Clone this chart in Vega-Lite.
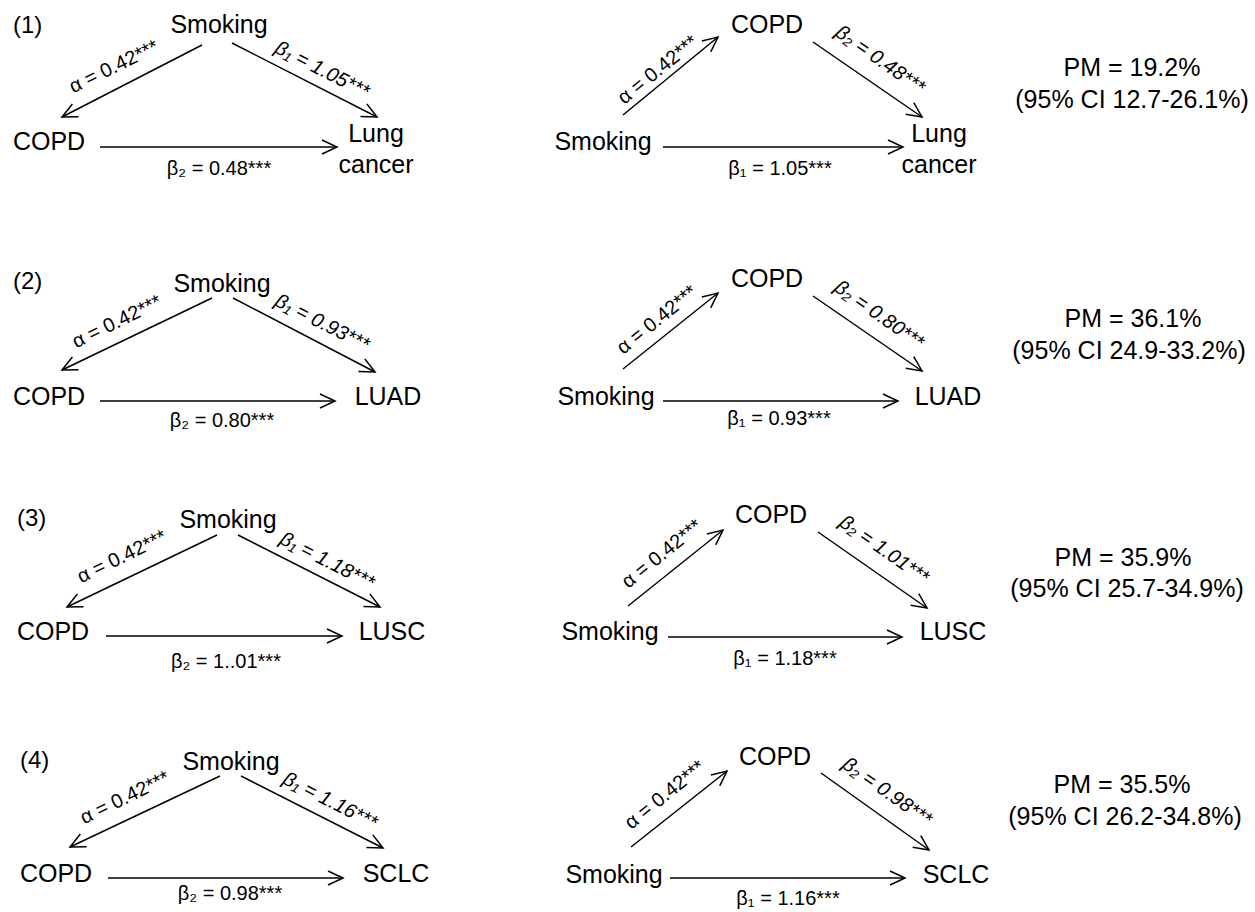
{
  "$schema": "https://vega.github.io/schema/vega-lite/v6.json",
  "width": 1255,
  "height": 912,
  "autosize": {"type": "fit", "contains": "padding"},
  "padding": 0,
  "background": "white",
  "config": {"view": {"stroke": null}, "text": {"font": "Liberation Sans", "color": "black"}},
  "datasets": {
    "edges": [
      {"x1": 202, "y1": 45, "x2": 62, "y2": 117, "dir": "dl"},
      {"x1": 232, "y1": 43, "x2": 377, "y2": 117, "dir": "dr"},
      {"x1": 100, "y1": 147, "x2": 337, "y2": 147, "dir": "r"},
      {"x1": 623, "y1": 115, "x2": 718, "y2": 37, "dir": "ur"},
      {"x1": 813, "y1": 42, "x2": 922, "y2": 117, "dir": "dr2"},
      {"x1": 663, "y1": 147, "x2": 903, "y2": 147, "dir": "r"},
      {"x1": 212, "y1": 298, "x2": 62, "y2": 370, "dir": "dl"},
      {"x1": 233, "y1": 298, "x2": 375, "y2": 372, "dir": "dr"},
      {"x1": 100, "y1": 401, "x2": 335, "y2": 401, "dir": "r"},
      {"x1": 623, "y1": 369, "x2": 718, "y2": 293, "dir": "ur"},
      {"x1": 813, "y1": 296, "x2": 922, "y2": 371, "dir": "dr2"},
      {"x1": 663, "y1": 401, "x2": 898, "y2": 401, "dir": "r"},
      {"x1": 217, "y1": 535, "x2": 67, "y2": 607, "dir": "dl"},
      {"x1": 238, "y1": 535, "x2": 380, "y2": 607, "dir": "dr"},
      {"x1": 106, "y1": 636, "x2": 342, "y2": 636, "dir": "r"},
      {"x1": 628, "y1": 606, "x2": 723, "y2": 530, "dir": "ur"},
      {"x1": 818, "y1": 532, "x2": 927, "y2": 608, "dir": "dr2"},
      {"x1": 668, "y1": 637, "x2": 902, "y2": 637, "dir": "r"},
      {"x1": 220, "y1": 776, "x2": 70, "y2": 847, "dir": "dl"},
      {"x1": 241, "y1": 776, "x2": 383, "y2": 848, "dir": "dr"},
      {"x1": 108, "y1": 878, "x2": 343, "y2": 878, "dir": "r"},
      {"x1": 631, "y1": 847, "x2": 727, "y2": 771, "dir": "ur"},
      {"x1": 821, "y1": 773, "x2": 929, "y2": 850, "dir": "dr2"},
      {"x1": 670, "y1": 878, "x2": 905, "y2": 878, "dir": "r"}
    ],
    "labels": [
      {"role": "panel", "label": "(1)", "x": 13, "y": 33},
      {"role": "panel", "label": "(2)", "x": 13, "y": 289},
      {"role": "panel", "label": "(3)", "x": 17, "y": 526},
      {"role": "panel", "label": "(4)", "x": 20, "y": 768},

      {"role": "node", "label": "Smoking", "x": 219, "y": 33},
      {"role": "node", "label": "COPD", "x": 49, "y": 150},
      {"role": "node", "label": "Lung", "x": 376, "y": 142},
      {"role": "node", "label": "cancer", "x": 376, "y": 173},
      {"role": "node", "label": "COPD", "x": 767, "y": 33},
      {"role": "node", "label": "Smoking", "x": 603, "y": 150},
      {"role": "node", "label": "Lung", "x": 939, "y": 142},
      {"role": "node", "label": "cancer", "x": 939, "y": 173},

      {"role": "node", "label": "Smoking", "x": 222, "y": 292},
      {"role": "node", "label": "COPD", "x": 49, "y": 405},
      {"role": "node", "label": "LUAD", "x": 388, "y": 405},
      {"role": "node", "label": "COPD", "x": 767, "y": 287},
      {"role": "node", "label": "Smoking", "x": 606, "y": 405},
      {"role": "node", "label": "LUAD", "x": 948, "y": 405},

      {"role": "node", "label": "Smoking", "x": 228, "y": 528},
      {"role": "node", "label": "COPD", "x": 53, "y": 640},
      {"role": "node", "label": "LUSC", "x": 392, "y": 640},
      {"role": "node", "label": "COPD", "x": 771, "y": 523},
      {"role": "node", "label": "Smoking", "x": 610, "y": 640},
      {"role": "node", "label": "LUSC", "x": 953, "y": 640},

      {"role": "node", "label": "Smoking", "x": 231, "y": 770},
      {"role": "node", "label": "COPD", "x": 56, "y": 882},
      {"role": "node", "label": "SCLC", "x": 396, "y": 882},
      {"role": "node", "label": "COPD", "x": 775, "y": 765},
      {"role": "node", "label": "Smoking", "x": 614, "y": 883},
      {"role": "node", "label": "SCLC", "x": 956, "y": 883},

      {"role": "coef", "label": "β₂ = 0.48***", "x": 219, "y": 175},
      {"role": "coef", "label": "β₁ = 1.05***", "x": 780, "y": 175},
      {"role": "coef", "label": "β₂ = 0.80***", "x": 222, "y": 427},
      {"role": "coef", "label": "β₁ = 0.93***", "x": 779, "y": 425},
      {"role": "coef", "label": "β₂ = 1..01***", "x": 226, "y": 668},
      {"role": "coef", "label": "β₁ = 1.18***", "x": 785, "y": 665},
      {"role": "coef", "label": "β₂ = 0.98***", "x": 230, "y": 900},
      {"role": "coef", "label": "β₁ = 1.16***", "x": 788, "y": 905},

      {"role": "alphaL", "label": "α = 0.42***", "x": 114, "y": 67},
      {"role": "alphaL", "label": "α = 0.42***", "x": 117, "y": 322},
      {"role": "alphaL", "label": "α = 0.42***", "x": 122, "y": 557},
      {"role": "alphaL", "label": "α = 0.42***", "x": 125, "y": 798},
      {"role": "betaL", "label": "β₁ = 1.05***", "x": 322, "y": 70},
      {"role": "betaL", "label": "β₁ = 0.93***", "x": 322, "y": 323},
      {"role": "betaL", "label": "β₁ = 1.18***", "x": 327, "y": 561},
      {"role": "betaL", "label": "β₁ = 1.16***", "x": 330, "y": 801},
      {"role": "alphaR", "label": "α = 0.42***", "x": 658, "y": 70},
      {"role": "alphaR", "label": "α = 0.42***", "x": 657, "y": 320},
      {"role": "alphaR", "label": "α = 0.42***", "x": 662, "y": 554},
      {"role": "alphaR", "label": "α = 0.42***", "x": 665, "y": 795},
      {"role": "betaR", "label": "β₂ = 0.48***", "x": 880, "y": 60},
      {"role": "betaR", "label": "β₂ = 0.80***", "x": 879, "y": 315},
      {"role": "betaR", "label": "β₂ = 1.01***", "x": 884, "y": 550},
      {"role": "betaR", "label": "β₂ = 0.98***", "x": 887, "y": 792},

      {"role": "pm", "label": "PM = 19.2%", "x": 1132, "y": 76},
      {"role": "pm", "label": "(95% CI 12.7-26.1%)", "x": 1132, "y": 108},
      {"role": "pm", "label": "PM = 36.1%", "x": 1133, "y": 327},
      {"role": "pm", "label": "(95% CI 24.9-33.2%)", "x": 1129, "y": 359},
      {"role": "pm", "label": "PM = 35.9%", "x": 1123, "y": 566},
      {"role": "pm", "label": "(95% CI 25.7-34.9%)", "x": 1127, "y": 597},
      {"role": "pm", "label": "PM = 35.5%", "x": 1122, "y": 793},
      {"role": "pm", "label": "(95% CI 26.2-34.8%)", "x": 1125, "y": 825}
    ]
  },
  "layer": [
    {
      "data": {"name": "edges"},
      "mark": {"type": "rule", "stroke": "black", "strokeWidth": 1.5},
      "encoding": {
        "x": {"field": "x1", "type": "quantitative", "scale": {"domain": [0, 1255], "nice": false, "zero": false}, "axis": null},
        "y": {"field": "y1", "type": "quantitative", "scale": {"domain": [0, 912], "nice": false, "zero": false, "reverse": true}, "axis": null},
        "x2": {"field": "x2"},
        "y2": {"field": "y2"}
      }
    },
    {
      "data": {"name": "edges"},
      "transform": [{"filter": "datum.dir === 'dl'"}],
      "mark": {"type": "point", "shape": "M-1,-0.47L0,0L-1,0.47", "filled": false, "stroke": "black", "strokeWidth": 1.5, "opacity": 1, "size": 900, "angle": 154},
      "encoding": {
        "x": {"field": "x2", "type": "quantitative", "scale": {"domain": [0, 1255], "nice": false, "zero": false}, "axis": null},
        "y": {"field": "y2", "type": "quantitative", "scale": {"domain": [0, 912], "nice": false, "zero": false, "reverse": true}, "axis": null}
      }
    },
    {
      "data": {"name": "edges"},
      "transform": [{"filter": "datum.dir === 'dr'"}],
      "mark": {"type": "point", "shape": "M-1,-0.47L0,0L-1,0.47", "filled": false, "stroke": "black", "strokeWidth": 1.5, "opacity": 1, "size": 900, "angle": 27},
      "encoding": {
        "x": {"field": "x2", "type": "quantitative", "scale": {"domain": [0, 1255], "nice": false, "zero": false}, "axis": null},
        "y": {"field": "y2", "type": "quantitative", "scale": {"domain": [0, 912], "nice": false, "zero": false, "reverse": true}, "axis": null}
      }
    },
    {
      "data": {"name": "edges"},
      "transform": [{"filter": "datum.dir === 'r'"}],
      "mark": {"type": "point", "shape": "M-1,-0.47L0,0L-1,0.47", "filled": false, "stroke": "black", "strokeWidth": 1.5, "opacity": 1, "size": 900, "angle": 0},
      "encoding": {
        "x": {"field": "x2", "type": "quantitative", "scale": {"domain": [0, 1255], "nice": false, "zero": false}, "axis": null},
        "y": {"field": "y2", "type": "quantitative", "scale": {"domain": [0, 912], "nice": false, "zero": false, "reverse": true}, "axis": null}
      }
    },
    {
      "data": {"name": "edges"},
      "transform": [{"filter": "datum.dir === 'ur'"}],
      "mark": {"type": "point", "shape": "M-1,-0.47L0,0L-1,0.47", "filled": false, "stroke": "black", "strokeWidth": 1.5, "opacity": 1, "size": 900, "angle": -38.8},
      "encoding": {
        "x": {"field": "x2", "type": "quantitative", "scale": {"domain": [0, 1255], "nice": false, "zero": false}, "axis": null},
        "y": {"field": "y2", "type": "quantitative", "scale": {"domain": [0, 912], "nice": false, "zero": false, "reverse": true}, "axis": null}
      }
    },
    {
      "data": {"name": "edges"},
      "transform": [{"filter": "datum.dir === 'dr2'"}],
      "mark": {"type": "point", "shape": "M-1,-0.47L0,0L-1,0.47", "filled": false, "stroke": "black", "strokeWidth": 1.5, "opacity": 1, "size": 900, "angle": 35},
      "encoding": {
        "x": {"field": "x2", "type": "quantitative", "scale": {"domain": [0, 1255], "nice": false, "zero": false}, "axis": null},
        "y": {"field": "y2", "type": "quantitative", "scale": {"domain": [0, 912], "nice": false, "zero": false, "reverse": true}, "axis": null}
      }
    },
    {
      "data": {"name": "labels"},
      "transform": [{"filter": "datum.role === 'node'"}],
      "mark": {"type": "text", "fontSize": 25, "align": "center", "baseline": "alphabetic"},
      "encoding": {
        "x": {"field": "x", "type": "quantitative", "scale": {"domain": [0, 1255], "nice": false, "zero": false}, "axis": null},
        "y": {"field": "y", "type": "quantitative", "scale": {"domain": [0, 912], "nice": false, "zero": false, "reverse": true}, "axis": null},
        "text": {"field": "label"}
      }
    },
    {
      "data": {"name": "labels"},
      "transform": [{"filter": "datum.role === 'panel'"}],
      "mark": {"type": "text", "fontSize": 24, "align": "left", "baseline": "alphabetic"},
      "encoding": {
        "x": {"field": "x", "type": "quantitative", "scale": {"domain": [0, 1255], "nice": false, "zero": false}, "axis": null},
        "y": {"field": "y", "type": "quantitative", "scale": {"domain": [0, 912], "nice": false, "zero": false, "reverse": true}, "axis": null},
        "text": {"field": "label"}
      }
    },
    {
      "data": {"name": "labels"},
      "transform": [{"filter": "datum.role === 'pm'"}],
      "mark": {"type": "text", "fontSize": 25, "align": "center", "baseline": "alphabetic"},
      "encoding": {
        "x": {"field": "x", "type": "quantitative", "scale": {"domain": [0, 1255], "nice": false, "zero": false}, "axis": null},
        "y": {"field": "y", "type": "quantitative", "scale": {"domain": [0, 912], "nice": false, "zero": false, "reverse": true}, "axis": null},
        "text": {"field": "label"}
      }
    },
    {
      "data": {"name": "labels"},
      "transform": [{"filter": "datum.role === 'coef'"}],
      "mark": {"type": "text", "fontSize": 20, "align": "center", "baseline": "alphabetic"},
      "encoding": {
        "x": {"field": "x", "type": "quantitative", "scale": {"domain": [0, 1255], "nice": false, "zero": false}, "axis": null},
        "y": {"field": "y", "type": "quantitative", "scale": {"domain": [0, 912], "nice": false, "zero": false, "reverse": true}, "axis": null},
        "text": {"field": "label"}
      }
    },
    {
      "data": {"name": "labels"},
      "transform": [{"filter": "datum.role === 'alphaL'"}],
      "mark": {"type": "text", "fontSize": 20, "align": "center", "baseline": "middle", "angle": -26},
      "encoding": {
        "x": {"field": "x", "type": "quantitative", "scale": {"domain": [0, 1255], "nice": false, "zero": false}, "axis": null},
        "y": {"field": "y", "type": "quantitative", "scale": {"domain": [0, 912], "nice": false, "zero": false, "reverse": true}, "axis": null},
        "text": {"field": "label"}
      }
    },
    {
      "data": {"name": "labels"},
      "transform": [{"filter": "datum.role === 'betaL'"}],
      "mark": {"type": "text", "fontSize": 20, "fontStyle": "italic", "align": "center", "baseline": "middle", "angle": 27},
      "encoding": {
        "x": {"field": "x", "type": "quantitative", "scale": {"domain": [0, 1255], "nice": false, "zero": false}, "axis": null},
        "y": {"field": "y", "type": "quantitative", "scale": {"domain": [0, 912], "nice": false, "zero": false, "reverse": true}, "axis": null},
        "text": {"field": "label"}
      }
    },
    {
      "data": {"name": "labels"},
      "transform": [{"filter": "datum.role === 'alphaR'"}],
      "mark": {"type": "text", "fontSize": 20, "align": "center", "baseline": "middle", "angle": -39},
      "encoding": {
        "x": {"field": "x", "type": "quantitative", "scale": {"domain": [0, 1255], "nice": false, "zero": false}, "axis": null},
        "y": {"field": "y", "type": "quantitative", "scale": {"domain": [0, 912], "nice": false, "zero": false, "reverse": true}, "axis": null},
        "text": {"field": "label"}
      }
    },
    {
      "data": {"name": "labels"},
      "transform": [{"filter": "datum.role === 'betaR'"}],
      "mark": {"type": "text", "fontSize": 20, "fontStyle": "italic", "align": "center", "baseline": "middle", "angle": 35},
      "encoding": {
        "x": {"field": "x", "type": "quantitative", "scale": {"domain": [0, 1255], "nice": false, "zero": false}, "axis": null},
        "y": {"field": "y", "type": "quantitative", "scale": {"domain": [0, 912], "nice": false, "zero": false, "reverse": true}, "axis": null},
        "text": {"field": "label"}
      }
    }
  ]
}
